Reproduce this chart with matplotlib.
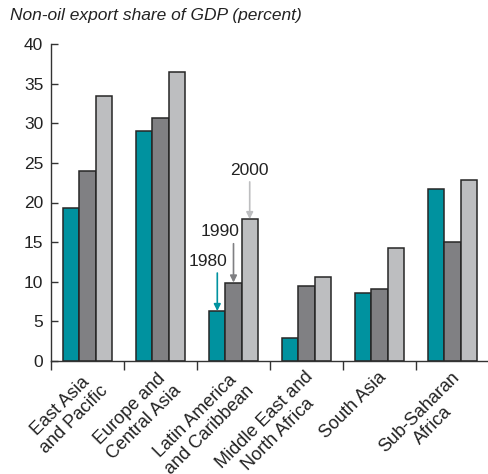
import matplotlib
matplotlib.use("Agg")
import matplotlib.pyplot as plt
import numpy as np
from matplotlib.transforms import ScaledTranslation

categories = ["East Asia\nand Pacific", "Europe and\nCentral Asia", "Latin America\nand Caribbean",
              "Middle East and\nNorth Africa", "South Asia", "Sub-Saharan\nAfrica"]
years = ["1980", "1990", "2000"]
v1980 = [19.3, 29.0, 6.3, 2.9, 8.6, 21.7]
v1990 = [24.0, 30.6, 9.9, 9.5, 9.1, 15.0]
v2000 = [33.5, 36.5, 17.9, 10.6, 14.3, 22.9]
yticks = [0, 5, 10, 15, 20, 25, 30, 35, 40]

colors = ["#00929f", "#808083", "#bdbec0"]
edge = "#262626"
txt = "#222222"
fs = 12.5
plt.rcParams['font.family'] = ["Liberation Sans", 'DejaVu Sans']

fig = plt.figure(figsize=(4.89, 4.74), dpi=100)
ax = fig.add_axes([51/489, 1-361/474, 1-51/489, (361-44)/474])

x = np.arange(len(categories))
w = 0.222
for i, (vals, c) in enumerate(zip([v1980, v1990, v2000], colors)):
    ax.bar(x + (i-1)*w, vals, width=w, color=c, edgecolor=edge, linewidth=1.1, zorder=2)

ax.set_xlim(-0.5, len(categories)-0.5)
ax.set_ylim(0, 40)
for s in ["top", "right"]:
    ax.spines[s].set_visible(False)
for s in ["left", "bottom"]:
    ax.spines[s].set_color("#333333")
    ax.spines[s].set_linewidth(1.0)

ax.set_yticks(yticks)
ax.set_yticklabels([str(t) for t in yticks], fontsize=fs, color=txt)
ax.tick_params(axis='y', direction='in', length=5, width=1.0, color="#333333", pad=5.5)

ax.set_xticks(np.arange(-0.5, len(categories)-0.5, 1.0))
ax.set_xticklabels([])
ax.tick_params(axis='x', which='major', direction='out', length=6.5, width=1.0, color="#333333")
ax.set_xticks(x, minor=True)
ax.set_xticklabels(categories, minor=True, rotation=45, ha='right', va='top',
                   rotation_mode='anchor', fontsize=13, color=txt, multialignment='center')
ax.tick_params(axis='x', which='minor', length=0, pad=5.5)
off = ScaledTranslation(-2/100, 0, fig.dpi_scale_trans)
for lab in ax.get_xticklabels(minor=True):
    lab.set_transform(lab.get_transform() + off)

# annotations for Latin America bars
li = 2
arrow_len = [4.8, 4.9, 4.7]
label_pos = [(1.65, 12.5), (1.815, 16.3), (2.22, 24.0)]
for k, (vals, c, L, (tx, ty), yr) in enumerate(zip([v1980, v1990, v2000], colors, arrow_len, label_pos, years)):
    bx = li + (k-1)*w
    val = vals[li]
    ax.annotate("", xy=(bx, val), xytext=(bx, val + L),
                arrowprops=dict(arrowstyle='-|>', color=c, lw=1.2,
                                mutation_scale=10, shrinkA=0, shrinkB=0))
    ax.text(tx, ty, yr, ha='center', va='center', fontsize=fs, color=txt)

fig.text(10/489, 1-8/474, "Non-oil export share of GDP (percent)", fontsize=fs, style='italic',
         ha='left', va='top', color=txt)

fig.savefig("out.png", dpi=100)
